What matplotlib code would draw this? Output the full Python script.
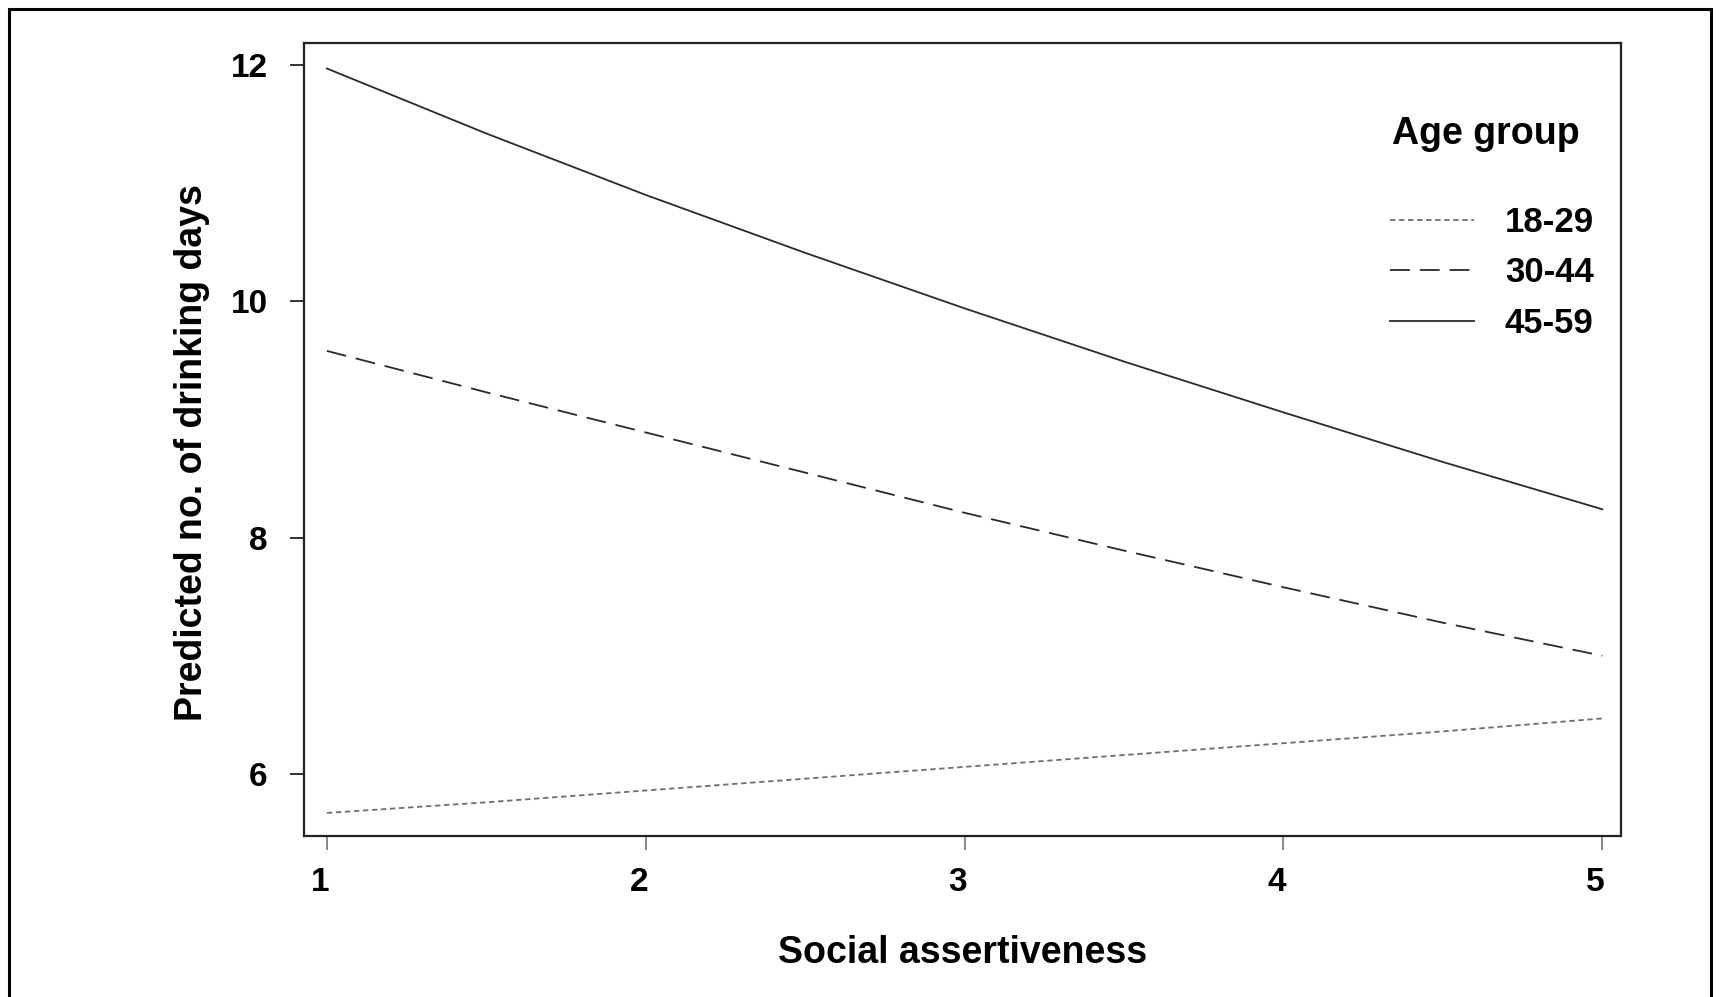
import matplotlib.pyplot as plt
from matplotlib.patches import Rectangle
from matplotlib.transforms import ScaledTranslation

# values (predicted drinking days)
assertiveness = [1, 1.5, 2, 2.5, 3, 3.5, 4, 4.5, 5]
x_ticks = [1, 2, 3, 4, 5]
age_groups = ["18-29", "30-44", "45-59"]
days_18_29 = [5.67, 5.76, 5.86, 5.96, 6.06, 6.16, 6.26, 6.36, 6.47]
days_30_44 = [9.58, 9.23, 8.89, 8.55, 8.21, 7.89, 7.58, 7.28, 7.00]
days_45_59 = [11.97, 11.42, 10.90, 10.41, 9.94, 9.49, 9.06, 8.64, 8.24]
y_ticks = [6, 8, 10, 12]

plt.rcParams["font.family"] = ["Liberation Sans", "DejaVu Sans"]
plt.rcParams["font.weight"] = "bold"

fig = plt.figure(figsize=(17.2, 9.97), dpi=100)
ax = fig.add_axes([0.1767, 0.1615, 0.766, 0.7954])

styles = [
    dict(color="#6e6e6e", lw=1.3, dashes=(3, 2)),
    dict(color="#2a2a2a", lw=1.3, dashes=(11, 5.5)),
    dict(color="#2a2a2a", lw=1.3, linestyle="-"),
]
series = [days_18_29, days_30_44, days_45_59]
for name, vals, st in zip(age_groups, series, styles):
    ax.plot(assertiveness, vals, label=name, **st)

ax.set_xlim(0.928, 5.06)
ax.set_ylim(5.475, 12.186)
ax.set_xticks(x_ticks)
ax.set_yticks(y_ticks)

for s in ax.spines.values():
    s.set_linewidth(1.6)
    s.set_color("#222222")

ax.tick_params(axis="y", length=10, width=1.4, color="#333333", pad=16, labelsize=24)
ax.tick_params(axis="x", length=10, width=1.4, color="#888888", pad=12, labelsize=24)
shift = ScaledTranslation(-0.07, 0, fig.dpi_scale_trans)
for lab in ax.get_xticklabels():
    lab.set_fontweight("bold")
    lab.set_transform(lab.get_transform() + shift)
for lab in ax.get_yticklabels():
    lab.set_fontweight("bold")

ax.set_xlabel("Social assertiveness", fontsize=27, fontweight="bold")
ax.set_ylabel("Predicted no. of drinking days", fontsize=27, fontweight="bold")
ax.xaxis.set_label_coords(0.5, -0.125)
ax.yaxis.set_label_coords(-0.071, 0.484)

# legend (title drawn separately to get the wide gap)
ax.text(0.897, 0.885, "Age group", transform=ax.transAxes, ha="center",
        va="center", fontsize=27, fontweight="bold")
leg = ax.legend(loc="upper left", bbox_to_anchor=(0.814, 0.812), frameon=False,
                fontsize=25, handlelength=2.4, handletextpad=0.9,
                labelspacing=0.5, borderaxespad=0)
for t in leg.get_texts():
    t.set_fontweight("bold")

# outer frame around the whole figure
fig.patches.append(Rectangle((9 / 1720, -0.05), 1702 / 1720, 1.05 - 9 / 997,
                             transform=fig.transFigure, fill=False,
                             lw=2.2, edgecolor="black"))

fig.savefig("out.png", dpi=100)
